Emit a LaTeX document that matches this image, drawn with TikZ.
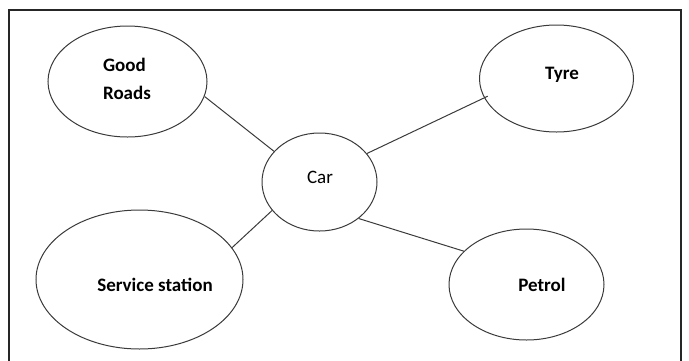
\documentclass[tikz,border=0pt]{standalone}
\usepackage{fontspec}
\setmainfont{Carlito}
\usetikzlibrary{shapes.geometric}
\definecolor{edgegray}{HTML}{3A3A3A}
\tikzset{
  bubble/.style={draw=edgegray, line width=1pt, ellipse, inner sep=0pt},
  lbl/.style={inner sep=0pt, font=\fontsize{19}{28}\selectfont\bfseries, align=left},
  lblreg/.style={inner sep=0pt, font=\fontsize{19}{21}\selectfont},
  link/.style={draw=edgegray, line width=1pt},
  frameline/.style={draw=black!85, line width=2.2pt}
}
\begin{document}
\begin{tikzpicture}[x=1pt,y=-1pt]
\useasboundingbox (0,0) rectangle (689,360);
% frame (bottom edge lies outside the picture)
\coordinate (f1) at (9,365);
\coordinate (f2) at (9,10);
\coordinate (f3) at (681,10);
\coordinate (f4) at (681,365);
\draw[frameline] (f1) -- (f2) -- (f3) -- (f4);
% ellipses
\node[bubble, minimum width=159pt, minimum height=111pt] (gr) at (127.5,81.5) {};
\node[bubble, minimum width=154pt, minimum height=107pt] (ty) at (556.5,78.5) {};
\node[bubble, minimum width=115pt, minimum height=98pt] (car) at (319.5,182) {};
\node[bubble, minimum width=207pt, minimum height=139pt] (ss) at (139.5,279.5) {};
\node[bubble, minimum width=155pt, minimum height=111pt] (pe) at (526.5,284.5) {};
% texts
\node[lbl] (grt) at (127,79) {Good\\Roads};
\node[lbl] (tyt) at (562,75) {Tyre};
\node[lblreg] (cart) at (320,177) {Car};
\node[lbl] (sst) at (155,285) {Service station};
\node[lbl] (pet) at (542,285) {Petrol};
% connectors
\draw[link] (gr.-11) -- (car.146);
\draw[link, shorten <=-4pt] (ty.195.5) -- (car.31.7);
\draw[link] (ss.19) -- (car.-149.7);
\draw[link] (pe.152.1) -- (car.-43.9);
\end{tikzpicture}
\end{document}
